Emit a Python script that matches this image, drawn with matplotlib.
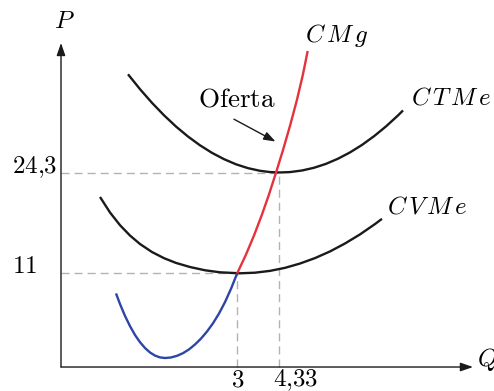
import matplotlib
matplotlib.use('Agg')
import matplotlib.pyplot as plt

plt.rcParams.update({
    'mathtext.fontset': 'cm',
    'font.family': 'serif',
})

# curves (q, P)
ctme_q = [-0.474, -0.092, 0.290, 0.671, 1.053, 1.435, 1.817, 2.199, 2.580, 2.962, 3.344,
          3.726, 4.044, 4.362, 4.680, 5.062, 5.444, 5.826, 6.208, 6.589, 6.971, 7.353,
          7.735, 8.117, 8.276]
ctme_p = [37.31, 35.34, 33.53, 31.89, 30.40, 29.08, 27.92, 26.92, 26.09, 25.41, 24.90,
          24.55, 24.38, 24.33, 24.38, 24.59, 24.95, 25.47, 26.15, 26.98, 27.97, 29.12,
          30.42, 31.87, 32.53]

cvme_q = [-1.365, -1.047, -0.729, -0.410, -0.092, 0.290, 0.671, 1.053, 1.499, 1.976,
          2.453, 3.089, 3.567, 4.044, 4.521, 4.998, 5.476, 5.953, 6.430, 6.907, 7.385, 7.607]
cvme_p = [21.09, 19.04, 17.36, 15.99, 14.87, 13.81, 13.00, 12.37, 11.83, 11.40,
          11.13, 11.00, 11.08, 11.32, 11.72, 12.29, 13.01, 13.89, 14.94, 16.14, 17.51, 18.20]

# CMg below the CVMe minimum (blue) and above it (red, supply)
cmg_low_q = [-0.856, -0.729, -0.570, -0.410, -0.251, -0.092, 0.067, 0.226, 0.385, 0.544,
             0.703, 0.894, 1.085, 1.276, 1.467, 1.658, 1.849, 2.039, 2.230, 2.421,
             2.612, 2.803, 3.0]
cmg_low_p = [8.34, 6.94, 5.37, 4.01, 2.84, 1.89, 1.12, 0.53, 0.12, -0.12,
             -0.20, -0.13, 0.09, 0.44, 0.94, 1.59, 2.37, 3.30, 4.39, 5.68,
             7.19, 8.95, 11.0]
cmg_high_q = [3.0, 3.274, 3.541, 3.783, 4.006, 4.241, 4.458, 4.688, 4.900, 5.088, 5.243]
cmg_high_p = [11.0, 13.42, 16.06, 18.71, 21.35, 24.39, 27.30, 30.61, 33.91, 37.22, 40.39]

x_ticks = [3, 4.33]
x_tick_labels = ['3', '4{,}33']
y_ticks = [11, 24.3]
y_tick_labels = ['11', '24{,}3']

fig = plt.figure(figsize=(4.94, 3.91), dpi=100)
ax = fig.add_axes([0, 0, 1, 1])
ax.set_xlim(-4.547, 11.171)
ax.set_ylim(-4.561, 47.13)
ax.axis('off')

x0, y0 = -2.606, -1.39  # where the two axes meet

# axes with arrow heads
axis_kw = dict(arrowstyle='-|>,head_length=0.75,head_width=0.26', color='#1a1a1a',
               lw=1.0, mutation_scale=10, shrinkA=0, shrinkB=0)
ax.annotate('', xy=(x0, 41.45), xytext=(x0, y0), arrowprops=axis_kw)
ax.annotate('', xy=(10.503, y0), xytext=(x0, y0), arrowprops=axis_kw)
ax.text(-2.51, 43.43, '$P$', fontsize=18, ha='center', va='baseline')
ax.text(10.63, -1.256, '$Q$', fontsize=18, ha='left', va='baseline')

# guide lines
dash_kw = dict(color='#b3b3b3', lw=1.0, dashes=(5.8, 3.6))
for xt, yt in zip(x_ticks, y_ticks):
    ax.plot([x0, xt], [yt, yt], **dash_kw)
    ax.plot([xt, xt], [y0, yt], **dash_kw)

# tick labels
ax.text(x_ticks[0], -3.95, '$' + x_tick_labels[0] + '$', fontsize=18, ha='center', va='baseline')
ax.text(x_ticks[1] + 0.54, -3.95, '$' + x_tick_labels[1] + '$', fontsize=18, ha='center', va='baseline')
for yt, lab in zip(y_ticks, y_tick_labels):
    ax.text(-4.165, yt, '$' + lab + '$', fontsize=18, ha='left', va='baseline')

# cost curves
ax.plot(ctme_q, ctme_p, color='#1a1a1a', lw=1.7, solid_capstyle='butt')
ax.plot(cvme_q, cvme_p, color='#1a1a1a', lw=1.7, solid_capstyle='butt')
ax.plot(cmg_low_q, cmg_low_p, color='#2d45a6', lw=1.7, solid_capstyle='butt')
ax.plot(cmg_high_q, cmg_high_p, color='#e5323c', lw=1.7, solid_capstyle='butt')

ax.text(5.157, 41.64, r'$C\,M\,g$', fontsize=18, ha='left', va='baseline')
ax.text(8.521, 33.25, r'$C\,T\,M\,e$', fontsize=18, ha='left', va='baseline')
ax.text(7.757, 18.84, r'$C\,V\,M\,e$', fontsize=18, ha='left', va='baseline')

# supply annotation
ax.text(2.984, 33.02, r'$\mathrm{Oferta}$', fontsize=19.5, ha='center', va='baseline')
ax.annotate('', xy=(4.219, 28.42), xytext=(2.898, 31.37),
            arrowprops=dict(arrowstyle='-|>,head_length=0.7,head_width=0.25', color='#1a1a1a',
                            lw=1.0, mutation_scale=10, shrinkA=0, shrinkB=0))

fig.savefig('out.png', dpi=100)
